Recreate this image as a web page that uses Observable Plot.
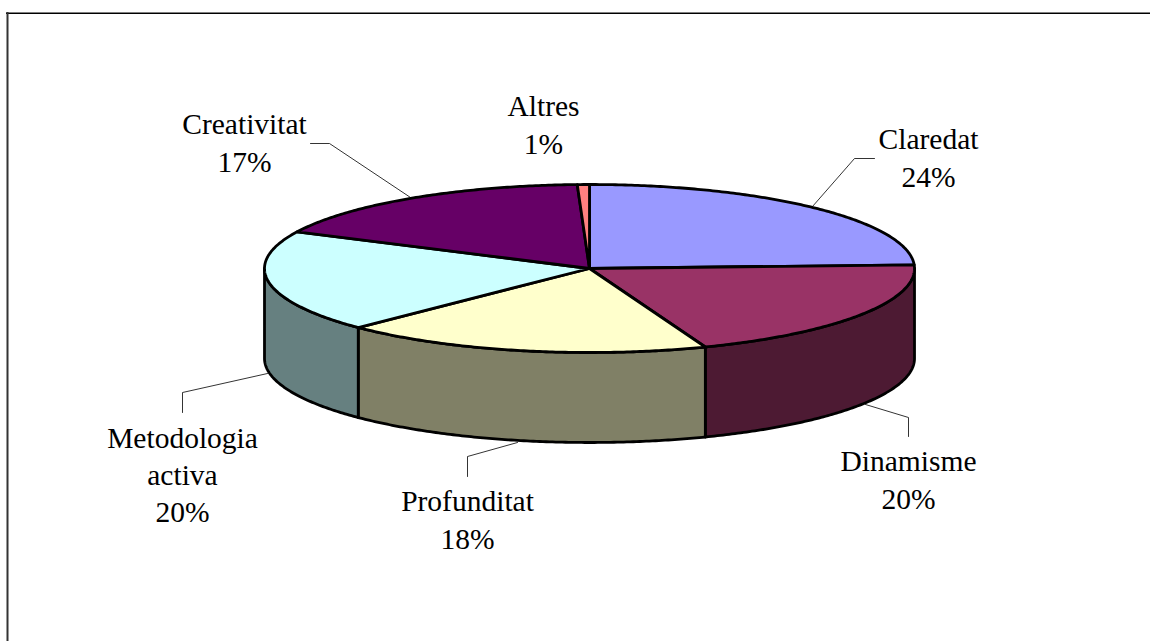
<!DOCTYPE html>
<html>
<head>
<meta charset="utf-8">
<style>html,body{margin:0;padding:0;background:#fff;overflow:hidden}svg{display:block}</style>
<script src="https://cdn.jsdelivr.net/npm/d3@7"></script>
<script src="https://cdn.jsdelivr.net/npm/@observablehq/plot@0.6"></script>
</head>
<body>
<div id="chart"></div>
<script>
// Data
const categories = ["Claredat", "Dinamisme", "Profunditat", "Metodologia\nactiva", "Creativitat", "Altres"];
const shares = [24.3, 19.9, 18.4, 19.6, 17.2, 0.6];
const topColors = ["#9999FF", "#993366", "#FFFFCC", "#CCFFFF", "#660066", "#FF8080"];
const sideColors = ["#4D4D80", "#4D1A33", "#808066", "#668080", "#330033", "#804040"];

// Layout of the pie, in page pixels
const cx = 589, cy = 268, rx = 325, ry = 84, depth = 90;
const labelAt = [[928, 155.5], [908, 477.5], [467, 517.5], [182, 472.5], [244, 140.5], [543, 122.5]];
const leaders = [
  [[874, 158], [854, 158], [812, 206]],
  [[908, 436], [908, 417], [865, 404]],
  [[467, 476], [467, 456], [517, 442]],
  [[182, 412], [182, 392], [267, 373]],
  [[310, 143], [329, 143], [410, 197]],
];

const total = d3.sum(shares);
const cum = d3.cumsum(shares);
const slices = categories.map((name, i) => ({
  name,
  a0: ((i ? cum[i - 1] : 0) / total) * 2 * Math.PI,
  a1: (cum[i] / total) * 2 * Math.PI,
  top: topColors[i],
  side: sideColors[i],
  label: `${name}\n${Math.round(shares[i])}%`,
  pos: labelAt[i]
}));

const rim = (a, dy = 0) => [cx + rx * Math.sin(a), cy - ry * Math.cos(a) + dy];
const arc = (a0, a1, dy = 0) => {
  const n = Math.max(2, Math.ceil(Math.abs(a1 - a0) / 0.01));
  return d3.range(n + 1).map((k) => rim(a0 + ((a1 - a0) * k) / n, dy));
};
const poly = (points, fill) =>
  Plot.line(points, {x: "0", y: "1", fill, stroke: "#000", strokeWidth: 2.8, strokeLinejoin: "round", curve: "linear"});

const marks = [
  // frame: only its top and left edges fall inside the page
  Plot.ruleY([12.7], {x1: 6, x2: 1150, stroke: "#000", strokeWidth: 1.6}),
  Plot.ruleX([7], {y1: 12, y2: 641, stroke: "#333", strokeWidth: 2})
];
// visible wall of the pie: front half only
for (const s of slices) {
  const a0 = Math.max(s.a0, Math.PI / 2), a1 = Math.min(s.a1, (3 * Math.PI) / 2);
  if (a1 > a0) {
    const pts = [...arc(a0, a1), ...arc(a1, a0, depth)];
    marks.push(poly([...pts, pts[0]], s.side));
  }
}
for (const s of slices) {
  marks.push(poly([[cx, cy], ...arc(s.a0, s.a1), [cx, cy]], s.top));
}
for (const l of leaders) {
  marks.push(Plot.line(l, {x: "0", y: "1", stroke: "#000", strokeWidth: 0.8}));
}
marks.push(Plot.text(slices, {
  x: (d) => d.pos[0], y: (d) => d.pos[1], text: "label",
  fontFamily: "Liberation Serif", fontSize: 29.5, lineHeight: 1.27,
  fill: "#000", textAnchor: "middle", lineAnchor: "middle"
}));

document.getElementById("chart").append(Plot.plot({
  width: 1150, height: 641,
  margin: 0,
  x: {domain: [0, 1150], range: [0, 1150], axis: null},
  y: {domain: [0, 641], range: [0, 641], axis: null},
  marks
}));
</script>
</body>
</html>
